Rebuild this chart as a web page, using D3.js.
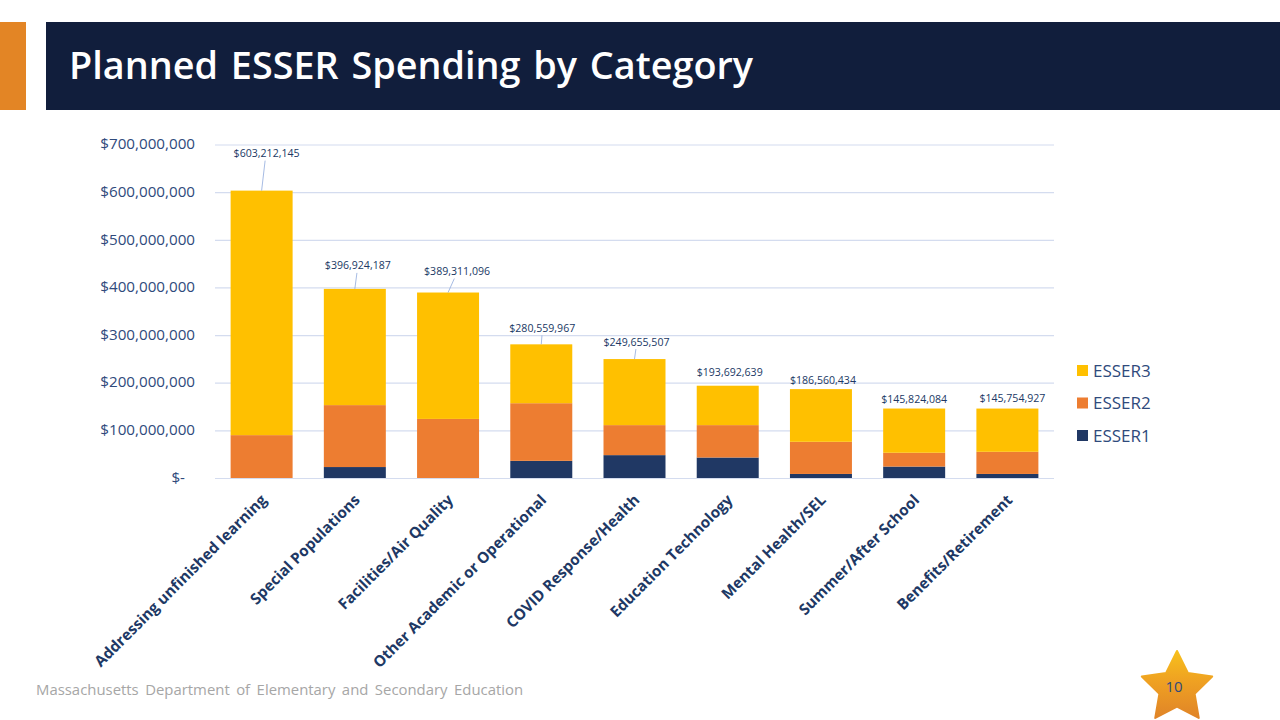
<!DOCTYPE html>
<html>
<head>
<meta charset="utf-8">
<script src="https://cdn.jsdelivr.net/npm/d3@7"></script>
<style>
  body { margin: 0; background: #fff; }
  svg { display: block; }
  text { font-family: "Open Sans", "Noto Sans", sans-serif; }
</style>
</head>
<body>
<div class="canva"></div>
<script>
const categories = ["Addressing unfinished learning", "Special Populations", "Facilities/Air Quality",
  "Other Academic or Operational", "COVID Response/Health", "Education Technology",
  "Mental Health/SEL", "Summer/After School", "Benefits/Retirement"];
const esser1 = [0, 23000000, 0, 36000000, 48000000, 43000000, 8500000, 24000000, 8500000];
const esser2 = [90000000, 130000000, 124000000, 121000000, 63000000, 68000000, 67500000, 29000000, 46500000];
const totals = [603212145, 396924187, 389311096, 280559967, 249655507, 193692639, 186560434, 145824084, 145754927];
const esser3 = totals.map((t, i) => t - esser1[i] - esser2[i]);
const yTicks = [0, 100000000, 200000000, 300000000, 400000000, 500000000, 600000000, 700000000];
const seriesNames = ["ESSER1", "ESSER2", "ESSER3"];
const seriesColors = ["#203864", "#ed7d31", "#ffc000"];

// where the data labels sit, relative to the top of the bar
const labelDx = [5, 3, 9, 1, 2, 2, 2, 0, 5];
const labelDy = [37, 23, 21, 16, 17, 13, 9, 9, 10];
const hasLeader = [true, true, true, true, true, false, false, false, false];

const navy = "#203864";
const svg = d3.select(".canva").append("svg").attr("width", 1280).attr("height", 720);

// header
const defs = svg.append("defs");
const orange = defs.append("linearGradient").attr("id", "starFill").attr("x1", 0).attr("y1", 0).attr("x2", 0).attr("y2", 1);
orange.append("stop").attr("offset", "0%").attr("stop-color", "#f7c01c");
orange.append("stop").attr("offset", "45%").attr("stop-color", "#efa122");
orange.append("stop").attr("offset", "100%").attr("stop-color", "#e08428");

svg.append("rect").attr("x", 0).attr("y", 22).attr("width", 26).attr("height", 88).attr("fill", "#e38525");
svg.append("rect").attr("x", 46).attr("y", 22).attr("width", 1234).attr("height", 88).attr("fill", "#111e3c");
svg.append("text").attr("x", 69).attr("y", 79).attr("fill", "#fff")
  .attr("font-size", 38.5).attr("font-weight", 600).attr("word-spacing", 3)
  .attr("textLength", 684).attr("lengthAdjust", "spacingAndGlyphs")
  .text("Planned ESSER Spending by Category");

// scales
const x = d3.scaleBand().domain(categories).range([215, 1054]).paddingInner(0.335).paddingOuter(0.1675);
const y = d3.scaleLinear().domain([0, 700000000]).range([478, 144.5]);

const tickFormat = d => d === 0 ? "$-" : d3.format("$,")(d);

// gridlines + y labels
const yAxis = svg.append("g").attr("transform", "translate(215,0)")
  .call(d3.axisLeft(y).tickValues(yTicks).tickFormat(tickFormat).tickSize(-839).tickPadding(20));
yAxis.select(".domain").remove();
yAxis.selectAll(".tick line").attr("stroke", "#d4dcef").attr("stroke-width", 1.2);
yAxis.selectAll(".tick text").attr("fill", "#2f4a7c").attr("font-size", 15.2).attr("dy", "0.28em");
// accounting format leaves a gap after the dash
yAxis.selectAll(".tick text").filter(d => d === 0).attr("dx", -10);

// stacked bars
const rows = categories.map((c, i) => ({ cat: c, ESSER1: esser1[i], ESSER2: esser2[i], ESSER3: esser3[i] }));
const stacked = d3.stack().keys(seriesNames)(rows);

svg.append("g").selectAll("g").data(stacked).enter().append("g")
  .attr("fill", (d, i) => seriesColors[i])
  .selectAll("rect").data(d => d).enter().append("rect")
  .attr("x", d => x(d.data.cat))
  .attr("y", d => y(d[1]))
  .attr("width", x.bandwidth())
  .attr("height", d => y(d[0]) - y(d[1]));

// x labels
svg.append("g").selectAll("text").data(categories).enter().append("text")
  .attr("transform", d => "translate(" + (x(d) + x.bandwidth() / 2 + 6) + ",501) rotate(-45)")
  .attr("text-anchor", "end")
  .attr("fill", navy)
  .attr("font-size", 15.2)
  .attr("font-weight", 700)
  .text(d => d);

// leader lines
svg.append("g").selectAll("line").data(totals).enter().filter((d, i) => hasLeader[i]).append("line")
  .attr("x1", d => x(categories[totals.indexOf(d)]) + x.bandwidth() / 2)
  .attr("y1", d => y(d))
  .attr("x2", function (d) {
    const i = totals.indexOf(d);
    return x(categories[i]) + x.bandwidth() / 2 + labelDx[i] * 0.7;
  })
  .attr("y2", function (d) {
    const i = totals.indexOf(d);
    return y(d) - labelDy[i] + 7;
  })
  .attr("stroke", "#8faadc").attr("stroke-width", 0.8);

// data labels
svg.append("g").selectAll("text").data(totals).enter().append("text")
  .attr("x", (d, i) => x(categories[i]) + x.bandwidth() / 2 + labelDx[i])
  .attr("y", (d, i) => y(d) - labelDy[i] + 3.5)
  .attr("text-anchor", "middle")
  .attr("fill", navy)
  .attr("font-size", 11.5)
  .attr("textLength", 66)
  .attr("lengthAdjust", "spacingAndGlyphs")
  .text(d => d3.format("$,")(d));

// legend
const legendNames = seriesNames.slice().reverse();
const legendColors = seriesColors.slice().reverse();
const legendY = d3.scalePoint().domain(legendNames).range([370.5, 435.5]);
const legend = svg.append("g").selectAll("g").data(legendNames).enter().append("g")
  .attr("transform", d => "translate(1077," + legendY(d) + ")");
legend.append("rect").attr("x", 0).attr("y", -5.5).attr("width", 11).attr("height", 11)
  .attr("fill", (d, i) => legendColors[i]);
legend.append("text").attr("x", 16).attr("y", 6).attr("fill", "#2f4a7c").attr("font-size", 17).text(d => d);

// footer
svg.append("text").attr("x", 36).attr("y", 694.5).attr("fill", "#a6a6a6")
  .attr("font-size", 14.9).attr("word-spacing", 2.6)
  .text("Massachusetts Department of Elementary and Secondary Education");

// star with slide number
const starPts = d3.range(10).map(i => {
  const r = i % 2 === 0 ? 37 : 18.5;
  const a = -Math.PI / 2 + i * Math.PI / 5;
  return [1177 + r * Math.cos(a), 688 + r * Math.sin(a)];
});
svg.append("polygon").attr("points", starPts.join(" ")).attr("fill", "url(#starFill)")
  .attr("stroke", "url(#starFill)").attr("stroke-width", 2).attr("stroke-linejoin", "round");
svg.append("text").attr("x", 1174).attr("y", 692).attr("text-anchor", "middle")
  .attr("fill", "#2f4a7c").attr("font-size", 15).text("10");
</script>
</body>
</html>
